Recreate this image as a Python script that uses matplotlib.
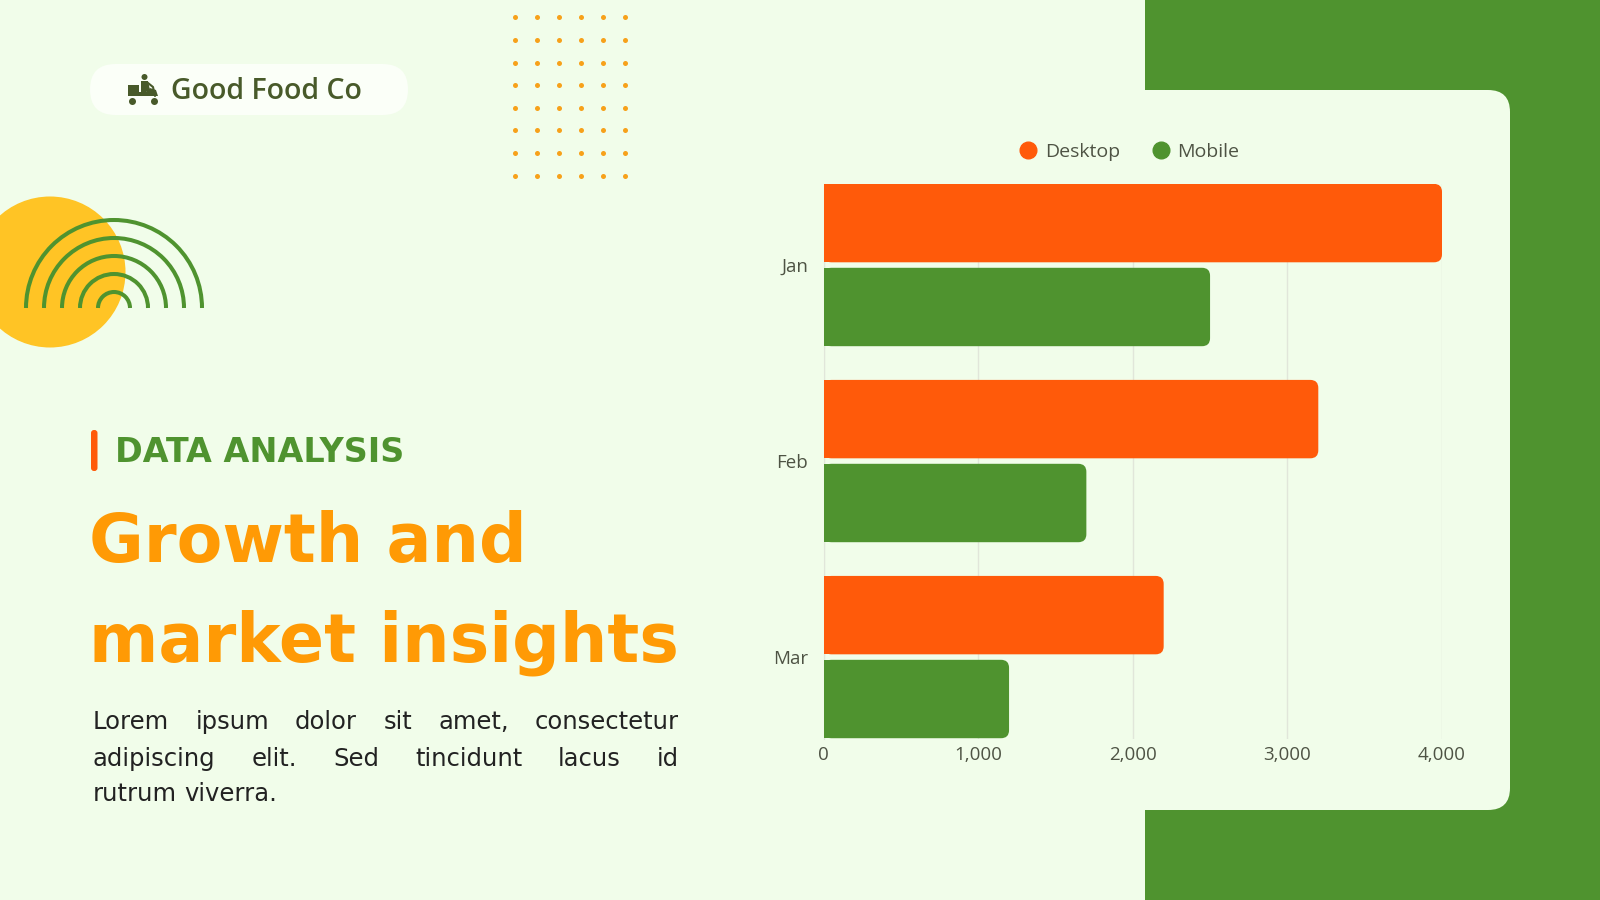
import matplotlib
matplotlib.use("Agg")
from matplotlib import pyplot as plt
from matplotlib.patches import FancyBboxPatch, Circle, Arc, Rectangle, Polygon
from matplotlib.lines import Line2D

plt.rcParams['font.family'] = ['Open Sans', 'DejaVu Sans']

# chart data
months = ["Jan", "Feb", "Mar"]
desktop = [4000, 3200, 2200]
mobile = [2500, 1700, 1200]
x_ticks = [0, 1000, 2000, 3000, 4000]
x_tick_labels = ["0", "1,000", "2,000", "3,000", "4,000"]
series_names = ["Desktop", "Mobile"]

# slide text
brand = "Good Food Co"
kicker = "DATA ANALYSIS"
title_lines = ["Growth and", "market insights"]
body_lines = ["Lorem ipsum dolor sit amet, consectetur",
              "adipiscing elit. Sed tincidunt lacus id",
              "rutrum viverra."]

# colours
bg = "#F1FDEA"
green = "#4F932F"
orange = "#FF5A0A"
amber = "#FF9A05"
yellow = "#FFC425"
dot_col = "#F7A11A"
olive = "#485A2A"
grid_col = "#E1E6DA"
label_col = "#4E5344"
body_col = "#222222"
wide = 'DejaVu Sans'

fig = plt.figure(figsize=(16, 9), dpi=100, facecolor=bg)

# background layer in pixel coordinates
bg_ax = fig.add_axes([0, 0, 1, 1])
bg_ax.set_xlim(0, 1600)
bg_ax.set_ylim(900, 0)
bg_ax.axis('off')

bg_ax.add_patch(Rectangle((1145, 0), 455, 900, color=green, lw=0))
bg_ax.add_patch(FancyBboxPatch((700, 90), 810, 720, boxstyle="round,pad=0,rounding_size=22",
                               fc=bg, ec='none'))

# logo pill
bg_ax.add_patch(FancyBboxPatch((90, 64), 318, 51, boxstyle="round,pad=0,rounding_size=25.5",
                               fc="#FBFFF8", ec='none'))
# little scooter rider
bg_ax.add_patch(Rectangle((128, 85), 11, 11, color=olive, lw=0))
bg_ax.add_patch(Polygon([(136, 96), (158, 96), (156, 90), (150, 88), (146, 92), (136, 92)],
                        closed=True, color=olive, lw=0))
bg_ax.add_patch(Circle((132.5, 101.5), 3.5, color=olive, lw=0))
bg_ax.add_patch(Circle((154.5, 101.5), 3.5, color=olive, lw=0))
bg_ax.add_patch(Circle((144.5, 77), 3, color=olive, lw=0))
bg_ax.add_patch(Polygon([(141, 81), (148, 81), (150, 90), (146, 92), (141, 92)],
                        closed=True, color=olive, lw=0))
bg_ax.plot([148, 153, 155], [83, 87, 96], color=olive, lw=1.5, solid_capstyle='round')
bg_ax.text(171, 99, brand, fontsize=20.5, fontweight='semibold', color=olive, va='baseline')

# dot grid
for i in range(6):
    for j in range(8):
        bg_ax.scatter(515 + 22 * i, 17.3 + 22.6 * j, s=13, color=dot_col, lw=0)

# yellow sun + arcs
bg_ax.add_patch(Circle((50, 272), 75.5, color=yellow, lw=0))
for r in [88, 70, 52, 34, 16]:
    bg_ax.add_patch(Arc((114, 308), 2 * r, 2 * r, theta1=180, theta2=360,
                        color=green, lw=2.9, capstyle='butt'))

# headline block
bg_ax.add_patch(FancyBboxPatch((91, 430), 6.5, 41, boxstyle="round,pad=0,rounding_size=3",
                               fc=orange, ec='none'))
bg_ax.text(115, 462, kicker, fontsize=24, fontweight='bold', color=green, va='baseline',
           family=wide)
bg_ax.text(89, 562, title_lines[0], fontsize=48, fontweight='bold', color=amber, va='baseline',
           family=wide)
bg_ax.text(89, 662, title_lines[1], fontsize=48, fontweight='bold', color=amber, va='baseline',
           family=wide)

# justified paragraph
renderer = fig.canvas.get_renderer()
left, right = 93, 679
baselines = [729, 766, 801]
body_size = 17.5
for k, line in enumerate(body_lines):
    words = line.split()
    texts = [bg_ax.text(0, baselines[k], w, fontsize=body_size, color=body_col, va='baseline',
                        family=wide) for w in words]
    widths = [t.get_window_extent(renderer).width for t in texts]
    if k < len(body_lines) - 1:
        gap = (right - left - sum(widths)) / (len(words) - 1)
    else:
        sp = bg_ax.text(0, 0, "a a", fontsize=body_size, family=wide)
        sa = bg_ax.text(0, 0, "aa", fontsize=body_size, family=wide)
        gap = sp.get_window_extent(renderer).width - sa.get_window_extent(renderer).width
        sp.remove()
        sa.remove()
    x = left
    for t, w in zip(texts, widths):
        t.set_x(x)
        x += w + gap

# bar chart
ax = fig.add_axes([823.5 / 1600, 1 - 739 / 900, (1442 - 823.5) / 1600, (739 - 183.7) / 900])
ax.patch.set_alpha(0)
ax.set_xlim(0, 4000)
ax.set_ylim(2.418, -0.415)

bar_h = 0.40
off = 0.214
sx = (1442 - 823.5) / 4000.0
sy = (739 - 183.7) / (2.418 + 0.415)
r_px = 8
rx = r_px / sx
ry = r_px / sy

for vals, sign, col in [(desktop, -1, orange), (mobile, 1, green)]:
    for i, v in enumerate(vals):
        yc = i + sign * off
        ax.barh(yc, v - rx, height=bar_h, left=0, color=col, lw=0, zorder=3)
        ax.add_patch(FancyBboxPatch((0, yc - bar_h / 2), v, bar_h,
                                    boxstyle="round,pad=0,rounding_size=%f" % rx,
                                    mutation_aspect=ry / rx, fc=col, ec='none', zorder=3))

ax.set_xticks(x_ticks)
ax.set_xticklabels(x_tick_labels)
ax.set_yticks(range(len(months)))
ax.set_yticklabels(months)
ax.tick_params(length=0, labelsize=13.5, labelcolor=label_col)
ax.tick_params(axis='x', pad=5)
ax.tick_params(axis='y', pad=11)
ax.grid(axis='x', color=grid_col, lw=1)
ax.set_axisbelow(True)
for s in ['top', 'right', 'bottom']:
    ax.spines[s].set_visible(False)
ax.spines['left'].set_color(grid_col)

handles = [Line2D([], [], marker='o', ls='', color=orange, markersize=12, label=series_names[0]),
           Line2D([], [], marker='o', ls='', color=green, markersize=12, label=series_names[1])]
fig.legend(handles=handles, loc='center', bbox_to_anchor=(1129 / 1600, 1 - 152 / 900), ncol=2,
           frameon=False, fontsize=14, labelcolor=label_col, handletextpad=0.35,
           columnspacing=1.6, handlelength=1.0)

fig.savefig("out.png", dpi=100, facecolor=bg)
